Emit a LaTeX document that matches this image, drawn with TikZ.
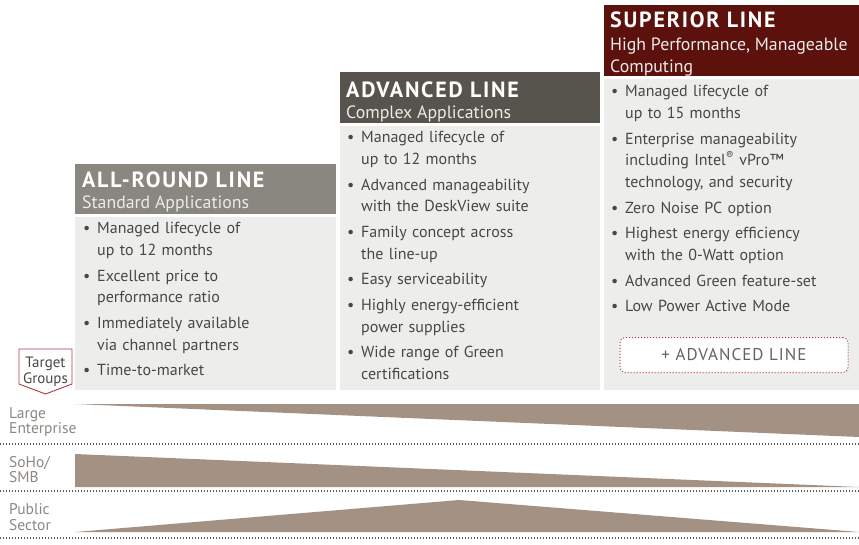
\documentclass[tikz,border=0pt]{standalone}
\usepackage{fontspec}
\setmainfont{PT Sans}
\usetikzlibrary{positioning}

\definecolor{hdrround}{HTML}{8A8780}
\definecolor{hdradv}{HTML}{57544D}
\definecolor{hdrsup}{HTML}{5D110C}
\definecolor{bodygray}{HTML}{EDEDEB}
\definecolor{txtgray}{HTML}{474744}
\definecolor{bandbrown}{HTML}{A39183}
\definecolor{lblgray}{HTML}{8C8782}
\definecolor{dotred}{HTML}{B03A44}

% one bullet item with hanging indent
\newcommand{\bul}[1]{\par\hangindent=14pt\hangafter=1\noindent\strut\makebox[14pt][l]{\textbullet}#1\par}

\begin{document}
\begin{tikzpicture}[x=1pt,y=-1pt,
	linetitle/.style={anchor=base west, inner sep=0, text=white, font=\fontsize{22}{24}\selectfont\bfseries\addfontfeatures{LetterSpace=8}},
	linesub/.style={anchor=base west, inner sep=0, text=white!92!black, font=\fontsize{17.8}{23}\selectfont},
	itemlist/.style={anchor=north west, inner sep=0, text width=240pt, text=txtgray, font=\fontsize{16}{21.8}\selectfont},
	grplabel/.style={anchor=west, inner sep=0, align=left, text=lblgray, font=\fontsize{15.5}{15.5}\selectfont},
	dotline/.style={line width=1.3pt, dash pattern=on 1.2pt off 1.8pt, black!65},
	advbox/.style={draw=dotred, line width=1pt, dotted, rounded corners=5pt, fill=white, minimum width=228pt, minimum height=35pt, text=txtgray!85, font=\fontsize{17}{20}\selectfont\addfontfeatures{LetterSpace=6}}]

\useasboundingbox (0,0) rectangle (859,544);

% column boxes
\fill[hdrround] (75,164) rectangle (336,214);
\fill[bodygray] (75,217) rectangle (336,390);

\fill[hdradv] (340,72) rectangle (600,123);
\fill[bodygray] (340,126) rectangle (600,390);

\fill[hdrsup] (604,5) rectangle (859,76);
\fill[bodygray] (604,79) rectangle (859,390);

% headers
\node[linetitle] (roundtitle) at (82,187) {ALL-ROUND LINE};
\node[linesub] (roundsub) at (82,208.5) {Standard Applications};

\node[linetitle] (advtitle) at (346,97) {ADVANCED LINE};
\node[linesub] (advsub) at (346,118) {Complex Applications};

\node[linetitle] (suptitle) at (610,27) {SUPERIOR LINE};
\node[linesub] (supsub) at (610,50.5) {High Performance, Manageable};
\node[linesub] (supsubb) at (610,72.3) {Computing};

% features
\node[itemlist] (roundlist) at (83,207.8) {\setlength{\parskip}{3.8pt}%
	\bul{Managed lifecycle of\newline up to 12 months}
	\bul{Excellent price to\newline performance ratio}
	\bul{Immediately available\newline via channel partners}
	\bul{Time-to-market}};

\node[itemlist] (advlist) at (347,116.8) {\setlength{\parskip}{3.8pt}%
	\bul{Managed lifecycle of\newline up to 12 months}
	\bul{Advanced manageability\newline with the DeskView suite}
	\bul{Family concept across\newline the line-up}
	\bul{Easy serviceability}
	\bul{Highly energy-efficient\newline power supplies}
	\bul{Wide range of Green\newline certifications}};

\node[itemlist] (suplist) at (611,70.8) {\setlength{\parskip}{3.8pt}%
	\bul{Managed lifecycle of\newline up to 15 months}
	\bul{Enterprise manageability\newline including Intel\textsuperscript{®} vPro™\newline technology, and security}
	\bul{Zero Noise PC option}
	\bul{Highest energy efficiency\newline with the 0-Watt option}
	\bul{Advanced Green feature-set}
	\bul{Low Power Active Mode}};

\node[advbox] (plusadv) at (734,355) {+ ADVANCED LINE};

% target groups
\draw[dotred, fill=white, line width=0.9pt] (19,349) -- (72,349) -- (72,384) -- (45.5,394) -- (19,384) -- cycle;
\node[align=center, inner sep=0, text=txtgray, font=\fontsize{15}{16}\selectfont] (target) at (45.5,372) {Target\\Groups};

\fill[bandbrown] (75,404) -- (859,404) -- (859,437) -- cycle;
\fill[bandbrown] (75,454) -- (75,487) -- (859,487) -- cycle;
\fill[bandbrown] (75,532) -- (459,500) -- (859,532) -- cycle;

\node[grplabel] (large) at (9,422) {Large\\Enterprise};
\node[grplabel] (soho) at (9,469.5) {SoHo/\\SMB};
\node[grplabel] (public) at (9,517) {Public\\Sector};

\foreach \y in {444,491,538}{
	\draw[dotline] (0,\y)--(859,\y);
}

\end{tikzpicture}
\end{document}
